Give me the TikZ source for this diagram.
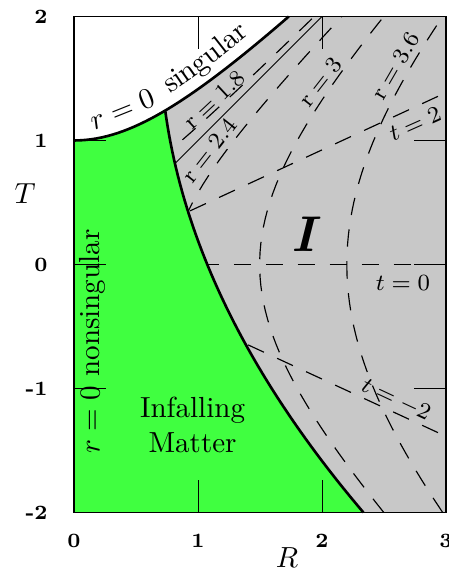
\documentclass[tikz,border=0pt]{standalone}
\usetikzlibrary{decorations.text}
\definecolor{mattergreen}{RGB}{64,255,64}
\definecolor{outsidegrey}{RGB}{200,200,200}
\tikzset{declare function={starR(\t)=1.0745-0.4097*\t+0.110*\t*\t;}}

\begin{document}
\begin{tikzpicture}[scale=1.5,
  dashcurve/.style={black, line width=0.4pt, dash pattern=on 6pt off 5pt},
  surface/.style={black, line width=0.9pt},
  thinline/.style={black, line width=0.35pt},
  numlabel/.style={font=\scriptsize\bfseries},
  curvelabel/.style={font=\footnotesize, inner sep=1pt}]
\useasboundingbox (-0.597,-2.472) rectangle (3.024,2.133);
\fill[outsidegrey] (0,-2) rectangle (3,2);
% lines of constant t
\foreach \k in {0.462,0,-0.462}
  \draw[dashcurve] (0,0) -- (3,3*\k);
% lines of constant r outside the horizon
\foreach \c in {0.664,2.241,4.840}
  \draw[dashcurve] plot[domain=-2:2, samples=60] ({sqrt(\x*\x+\c)},\x);
% r = 1.8 and the horizon
\draw[dashcurve] plot[domain=0:1.9375, samples=40] (\x,{sqrt(\x*\x+0.246)});
\draw[thinline] (0,0) -- (2,2);
% infalling matter and singularity
\fill[mattergreen] (0,-2) -- (0,1) -- plot[domain=0:0.7352, samples=20] (\x,{sqrt(1+\x*\x)})
  -- plot[domain=1.243:-2, samples=50] ({starR(\x)},\x) -- cycle;
\fill[white] (0,1) -- plot[domain=0:1.7321, samples=40] (\x,{sqrt(1+\x*\x)}) -- (0,2) -- cycle;
\draw[surface] plot[domain=0:1.7321, samples=40] (\x,{sqrt(1+\x*\x)});
\draw[surface] plot[domain=1.243:-2, samples=50] ({starR(\x)},\x);
\path[decorate, decoration={text along path, text={{$r=0$}\ \ singular}, text align=center, raise=4pt}]
  plot[domain=0:1.62, samples=40] (\x,{sqrt(1+\x*\x)});
% ticks and frame
\foreach \x in {1,2} {
  \draw[thinline] (\x,-2) -- (\x,-1.74);
  \draw[thinline] (\x,2) -- (\x,1.74);
}
\foreach \y in {-1,0,1} {
  \draw[thinline] (0,\y) -- (0.26,\y);
  \draw[thinline] (3,\y) -- (2.74,\y);
}
\draw[line width=0.5pt] (0,-2) rectangle (3,2);
\foreach \y [count=\i] in {-2,...,2}
  \node[numlabel, anchor=east] (ylab\i) at (-0.13,\y) {\y};
\foreach \x in {0,...,3}
  \node[numlabel, anchor=north] (xlab\x) at (\x,-2.09) {\x};
\node (axisT) at (-0.395,0.569) {$T$};
\node (axisR) at (1.718,-2.367) {$R$};
% region labels
\node[align=center] (matter) at (0.956,-1.294) {Infalling\\Matter};
\node[rotate=90] (nonsing) at (0.149,-0.621) {$r=0$ nonsingular};
\node[font=\LARGE\bfseries\itshape] (regionI) at (1.847,0.246) {I};
% curve labels
\node[curvelabel, rotate=43] (r18) at (1.13,1.33) {$\mathrm{r}=1.8$};
\node[curvelabel, rotate=52] (r24) at (1.09,0.92) {$\mathrm{r}=2.4$};
\node[curvelabel, rotate=52] (r30) at (1.985,1.47) {$\mathrm{r}=3$};
\node[curvelabel, rotate=60] (r36) at (2.59,1.60) {$\mathrm{r}=3.6$};
\node[curvelabel, rotate=24] (t2) at (2.75,1.133) {$t=2$};
\node[curvelabel] (t0) at (2.653,-0.15) {$t=0$};
\node[curvelabel, rotate=-25] (tm2) at (2.597,-1.093) {$t=-2$};
\end{tikzpicture}
\end{document}
